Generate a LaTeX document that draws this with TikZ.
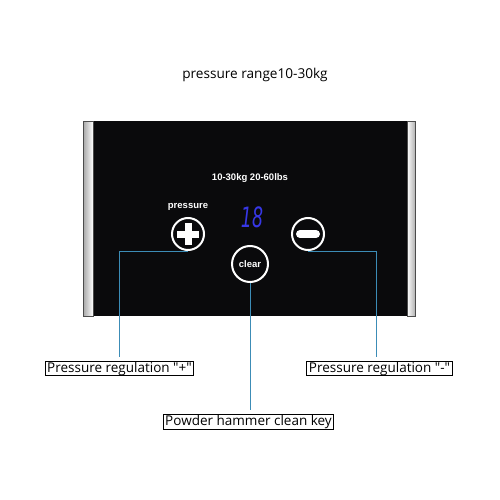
\documentclass[tikz,border=0pt]{standalone}
\usepackage{fontspec}
\setmainfont{Open Sans}[Ligatures=TeXOff]
\newfontfamily\panelfont{Liberation Sans}
\newfontfamily\ledfont{DejaVu Sans}
\usetikzlibrary{positioning}
\definecolor{leader}{RGB}{60,140,182}
\definecolor{panel}{RGB}{10,10,12}
\definecolor{led}{RGB}{55,55,230}
\tikzset{
  keyring/.style={circle,draw=white,line width=2pt,minimum size=32pt,inner sep=0pt},
  callout/.style={draw,line width=1pt,inner xsep=2pt,inner ysep=0.6pt,font=\fontsize{13.5}{14}\selectfont},
  leadline/.style={draw=leader,line width=0.9pt,shorten >=4pt},
  paneltext/.style={white,font=\panelfont\bfseries\fontsize{9.5}{10}\selectfont},
}

\begin{document}
\begin{tikzpicture}[x=1pt,y=-1pt]
\useasboundingbox (0,0) rectangle (500,500);
% panel
\fill[panel] (88,121) rectangle (410,316);
\shade[left color=gray!70,right color=white,draw=gray!60!black] (83,121) rectangle (93,316);
\shade[left color=white,right color=gray!60,draw=gray!60!black] (407,121) rectangle (415,316);
\node[font=\fontsize{13.6}{15}\selectfont] (title) at (255,75) {pressure range10-30kg};
\node[paneltext] (range) at (250,178) {10-30kg 20-60lbs};
\node[keyring] (plus) at (188,234) {};
\node[keyring] (minus) at (308,234) {};
\node[keyring,minimum size=36pt] (clear) at (250,264) {};
\node[paneltext] at (clear) {clear};
\node[paneltext,above=3pt of plus] (pres) {pressure};
\node[led,font=\ledfont\itshape\fontsize{28}{28}\selectfont,xscale=0.62,transform shape] (disp) at (252,217) {18};
\draw[white,line width=7pt] ([xshift=-11pt]plus.center) -- ([xshift=11pt]plus.center);
\draw[white,line width=7pt] ([yshift=-11pt]plus.center) -- ([yshift=11pt]plus.center);
\draw[white,line width=8pt,line cap=round] ([xshift=-8pt]minus.center) -- ([xshift=8pt]minus.center);
% labels
\node[callout] (lplus) at (119.5,368.5) {Pressure regulation "+"};
\node[callout] (lminus) at (379.5,368.5) {Pressure regulation "-"};
\node[callout] (lclear) at (248.5,422) {Powder hammer clean key};
\draw[leadline] (plus.south) -| (lplus.north);
\draw[leadline] (minus.south) -| ([xshift=-3pt]lminus.north);
\draw[leadline] (clear.south) -- (clear.south |- lclear.north);
\end{tikzpicture}
\end{document}
